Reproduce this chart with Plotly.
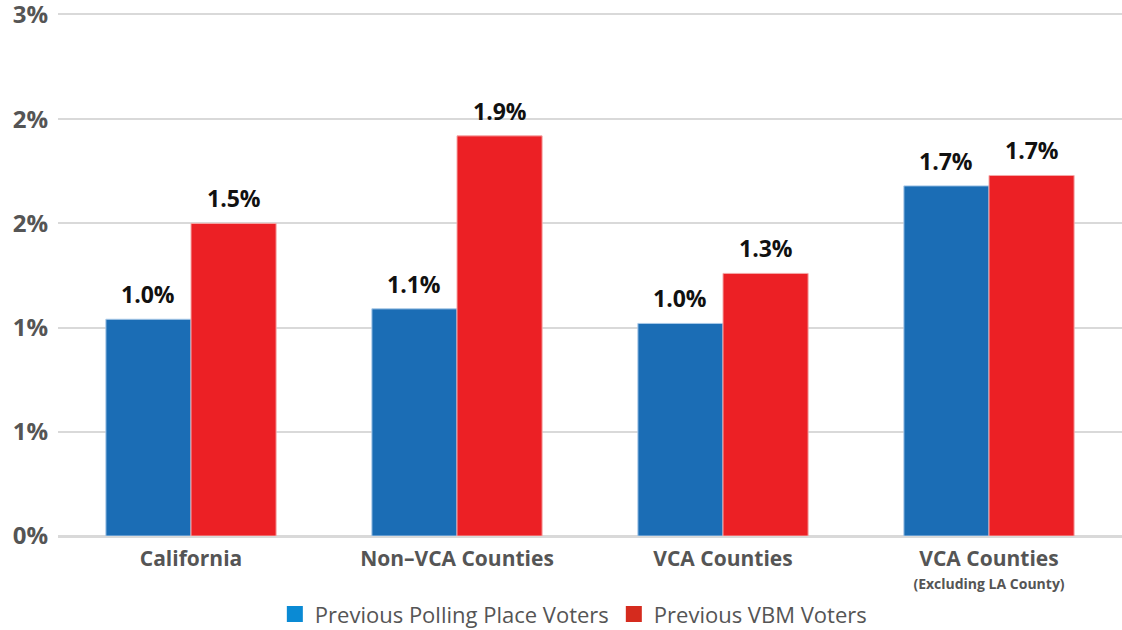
import plotly.graph_objects as go

categories = ["California", "Non\u2013VCA Counties", "VCA Counties", "VCA Counties"]
category_notes = ["", "", "", "(Excluding LA County)"]
polling_place = [1.04, 1.09, 1.02, 1.68]
vbm = [1.50, 1.92, 1.26, 1.73]
series_names = ["Previous Polling Place Voters", "Previous VBM Voters"]
tick_vals = [0, 0.5, 1.0, 1.5, 2.0, 2.5]
tick_text = ["0%", "1%", "1%", "2%", "2%", "3%"]

BAR_BLUE = "#1b6db5"
BAR_RED = "#ec2025"
LEG_BLUE = "#0a8ad4"
LEG_RED = "#d52b1e"
GRID = "#d9d9d9"
BARGAP = 0.36

x_labels = []
for c, n in zip(categories, category_notes):
    lab = f"<span style='font-size:21px'>{c}</span>"
    if n:
        lab += f"<br><span style='font-size:14px'>{n}</span>"
    x_labels.append(lab)
x_idx = list(range(len(categories)))

label_font = dict(family="Open Sans", size=23, color="#111111", weight="bold")

fig = go.Figure()
fig.add_trace(go.Bar(x=x_idx, y=polling_place,
                     marker=dict(color=BAR_BLUE, line=dict(color="#a9c9e8", width=1)),
                     showlegend=False))
fig.add_trace(go.Bar(x=x_idx, y=vbm,
                     marker=dict(color=BAR_RED, line=dict(color="#f5a8a8", width=1)),
                     showlegend=False))
# legend-only entries (square swatches)
for name, col in zip(series_names, [LEG_BLUE, LEG_RED]):
    fig.add_trace(go.Scatter(x=[None], y=[None], mode="markers", name=name,
                             marker=dict(symbol="square", size=17, color=col)))

# value labels above bars
off = (1 - BARGAP) / 4
for k, series in enumerate([polling_place, vbm]):
    sgn = -1 if k == 0 else 1
    for i, v in enumerate(series):
        fig.add_annotation(x=i + sgn * off, y=v, xref="x", yref="y",
                           text=f"{v:.1f}%", showarrow=False, yanchor="bottom",
                           yshift=7, font=label_font)

fig.update_layout(
    width=1122, height=630,
    margin=dict(l=58, r=0, t=15, b=94),
    paper_bgcolor="white", plot_bgcolor="white",
    barmode="group", bargap=BARGAP, bargroupgap=0,
    font=dict(family="Open Sans", color="#555555"),
    legend=dict(orientation="h", xref="container", yref="container",
                x=0.511, xanchor="center", y=0.025, yanchor="middle",
                font=dict(family="Open Sans", size=22, color="#555555"),
                itemwidth=30, traceorder="normal"),
    xaxis=dict(range=[-0.5, len(categories) - 0.5], tickvals=x_idx, ticktext=x_labels,
               showgrid=False, showline=True, mirror=True, linecolor=GRID, linewidth=2,
               zeroline=False, ticks="",
               tickfont=dict(family="Open Sans", size=17, color="#555555", weight="bold"),
               ticklabelstandoff=8),
    yaxis=dict(range=[0, 2.5], tickvals=tick_vals, ticktext=tick_text,
               showgrid=True, gridcolor=GRID, gridwidth=2, zeroline=True,
               zerolinecolor=GRID, zerolinewidth=2, ticks="",
               tickfont=dict(family="Open Sans", size=24, color="#555555", weight="bold"),
               ticklabelstandoff=9, automargin=False, ticklabeloverflow="allow"),
)
fig.write_html("out.html", config={"displayModeBar": False},
               post_script="document.body.style.margin='0';")
